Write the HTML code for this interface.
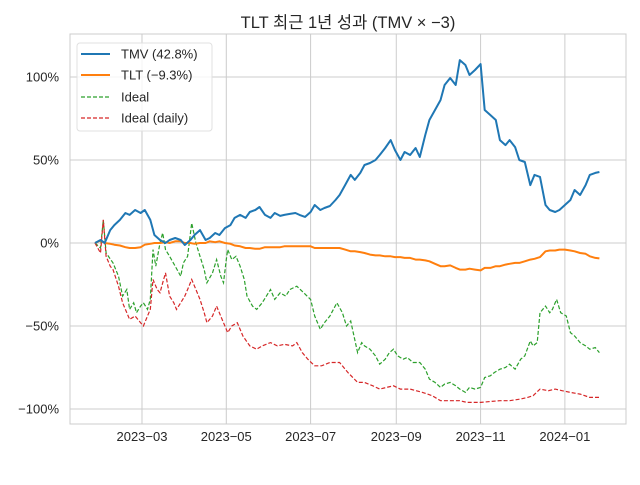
<!DOCTYPE html>
<html><head><meta charset="utf-8">
<style>
body{margin:0;background:#fff;}
svg text{font-family:"Liberation Sans","Noto Sans CJK KR",sans-serif;fill:#262626;}
</style></head>
<body>
<svg id="chart" width="640" height="480" viewBox="0 0 640 480" xmlns="http://www.w3.org/2000/svg">
<rect width="640" height="480" fill="#fff"/>
<text x="348" y="28" text-anchor="middle" font-size="16.5">TLT 최근 1년 성과 (TMV × −3)</text>
<rect x="70" y="34" width="556" height="390" fill="#fff" stroke="#cccccc" stroke-width="1"/>
<g id="grid"></g>
<g id="series"></g>
<g id="ticks"></g>
<g>
<rect x="77" y="43" width="135" height="88" rx="3" fill="#fff" fill-opacity="0.8" stroke="#e0e0e0"/>
<line x1="81" y1="54" x2="110" y2="54" stroke="#1f77b4" stroke-width="2"/>
<text x="121" y="58.5" font-size="13">TMV (42.8%)</text>
<line x1="81" y1="75" x2="110" y2="75" stroke="#ff7f0e" stroke-width="2"/>
<text x="121" y="79.5" font-size="13">TLT (−9.3%)</text>
<line x1="81" y1="97" x2="110" y2="97" stroke="#2ca02c" stroke-width="1.2" stroke-dasharray="4,2"/>
<text x="121" y="101.5" font-size="13">Ideal</text>
<line x1="81" y1="118" x2="110" y2="118" stroke="#d62728" stroke-width="1.2" stroke-dasharray="4,2"/>
<text x="121" y="122.5" font-size="13">Ideal (daily)</text>
</g>
</svg>
<script>
// days since 2023-01-26
const days = [0,4,7,11,14,18,22,25,29,33,36,40,43,47,51,54,58,62,65,69,72,76,80,83,87,90,94,98,101,105,109,112,116,119,123,127,130,134,137,141,145,148,152,156,159,163,166,170,174,177,181,185,188,192,195,199,203,206,210,214,217,221,224,228,232,235,239,242,246,250,253,257,261,264,268,271,275,279,282,286,290,293,297,300,304,307,311,315,318,322,326,329,333,336,340,344,347,351,355,358,362,365];
const tmv = [0,1.8,0,7.8,10.8,13.9,18.1,16.9,19.9,18.1,19.9,13.9,4.8,1.8,0,1.8,3.0,1.8,-1.2,1.8,4.8,7.8,1.8,3.0,6.0,4.8,9.0,10.8,15.1,16.9,15.1,18.7,19.9,21.7,16.9,15.1,18.1,16.3,16.9,17.5,18.1,16.9,15.7,18.7,22.9,19.9,21.1,22.3,25.9,28.9,34.9,41,38,42.2,47,48.2,50,53,57.2,62,56,50,54.8,53,57.2,51.8,65.1,74.1,80.1,86.1,95.2,99.4,95.2,110.2,107.2,101.2,104.2,107.8,80.1,77.1,74.1,62,59,62,57.8,50,48.8,34.9,41,39.8,22.9,19.9,18.7,19.9,22.9,25.9,31.9,28.9,34.9,41,42.2,42.8];
const tlt = [0,1.5,0,-0.5,-1,-1.5,-2.5,-3,-3,-2.5,-1,-0.5,0,0,0.5,0,1,1,0,0,-0.5,0,0,1,0.5,1,0,-0.5,-1.5,-2,-3,-3,-3.5,-3.5,-2.5,-2.5,-2.5,-2.5,-2,-2,-2,-2,-2,-2,-3,-3,-3,-3,-3,-3,-4,-5,-5,-5.5,-6,-7,-7.5,-7.5,-8,-8,-8.5,-8.5,-9,-9,-10,-10,-10.5,-11,-12.5,-14,-14,-13.5,-15,-16,-16,-15.5,-16,-16.5,-15,-15,-14,-14,-13,-12.5,-12,-12,-11,-10,-9.5,-8.5,-5,-4.5,-4.5,-4,-4,-4.5,-5,-6,-6.5,-8,-9,-9.3];
const idealDays = [0,4,6,8,13,17,20,23,25,28,30,33,35,38,40,42,44,47,49,51,54,58,62,64,67,70,73,76,79,81,85,88,91,93,95,96,99,102,105,108,110,114,117,121,124,127,130,134,138,141,146,151,156,159,163,166,170,175,179,182,185,190,193,195,199,203,206,210,213,216,219,223,226,230,235,239,242,246,250,253,257,261,264,268,271,275,279,282,286,289,293,297,300,304,308,311,315,317,320,322,326,329,331,334,337,341,344,347,351,355,358,362,365];
const ideal = [0,-3,14,-6,-12,-20,-32,-28,-40,-36,-42,-38,-36,-40,-34,-4,-14,0,6,-4,-8,-14,-20,-12,-8,12,0,-8,-16,-24,-18,-10,-20,-24,-10,-4,-10,-8,-14,-22,-32,-38,-40,-36,-32,-28,-34,-30,-32,-28,-26,-30,-34,-44,-52,-48,-44,-36,-42,-50,-47,-66,-60,-62,-64,-68,-73,-70,-66,-64,-68,-70,-69,-72,-72,-76,-82,-84,-87,-85,-84,-86,-88,-90,-87,-88,-87,-81,-80,-78,-76,-75,-73,-76,-70,-68,-59,-62,-60,-42,-38,-42,-40,-34,-42,-44,-54,-56,-60,-62,-64,-63,-66];
const dailyDays = [0,4,6,8,11,13,17,20,23,25,29,33,35,38,40,42,45,47,49,51,54,57,59,62,65,68,70,73,76,79,81,85,88,92,96,99,103,107,112,117,121,127,132,137,143,146,150,154,159,164,170,177,183,190,195,201,206,211,216,221,228,237,244,250,257,264,269,275,279,286,293,300,308,313,317,322,328,333,338,344,351,358,365];
const idealDaily = [0,-6,14,-8,-14,-16,-26,-36,-42,-46,-44,-48,-50,-44,-40,-22,-28,-30,-24,-18,-32,-36,-40,-36,-32,-26,-22,-28,-34,-42,-48,-44,-38,-46,-54,-50,-48,-56,-62,-64,-62,-60,-62,-61,-62,-60,-66,-70,-74,-74,-72,-72,-78,-84,-84,-86,-88,-87,-86,-88,-88,-90,-92,-95,-95,-95,-96,-96,-96,-95.5,-95,-95,-94,-93,-92,-88,-89,-88,-89,-90,-91,-93,-93];
const yTicks = [100,50,0,-50,-100];
const yTickLabels = ["100%","50%","0%","−50%","−100%"];
const xTickDays = [34,95,156,218,279,340];
const xTickLabels = ["2023−03","2023−05","2023−07","2023−09","2023−11","2024−01"];

const NS = "http://www.w3.org/2000/svg";
function xs(d){ return 95 + d*1.382; }
function ys(v){ return 243 - v*1.66; }
function mk(tag, attrs, parent){
  const e = document.createElementNS(NS, tag);
  for (const k in attrs) e.setAttribute(k, attrs[k]);
  parent.appendChild(e); return e;
}
const grid = document.getElementById('grid');
const ticks = document.getElementById('ticks');
const series = document.getElementById('series');
yTicks.forEach((v,i)=>{
  const l = mk('line',{x1:70,x2:626,y1:ys(v),y2:ys(v),stroke:'#cccccc','stroke-width':1},grid);
  
  
  const t = mk('text',{x:59,y:ys(v)+4.5,'text-anchor':'end','font-size':13},ticks);
  t.textContent = yTickLabels[i];
  
  
});
xTickDays.forEach((d,i)=>{
  const l = mk('line',{x1:xs(d),x2:xs(d),y1:34,y2:424,stroke:'#cccccc','stroke-width':1},grid);
  
  
  const t = mk('text',{x:xs(d),y:441,'text-anchor':'middle','font-size':13},ticks);
  t.textContent = xTickLabels[i];
  
  
});
function path(dx, vals){
  const n = Math.min(dx.length, vals.length);
  let s = '';
  for (let i=0;i<n;i++) s += (i?'L':'M') + xs(dx[i]).toFixed(1) + ',' + ys(vals[i]).toFixed(1);
  return s;
}
const pG = mk('path',{d:path(idealDays,ideal),fill:'none',stroke:'#2ca02c','stroke-width':1.2,'stroke-dasharray':'4,2'},series);


const pR = mk('path',{d:path(dailyDays,idealDaily),fill:'none',stroke:'#d62728','stroke-width':1.2,'stroke-dasharray':'4,2'},series);


const pO = mk('path',{d:path(days,tlt),fill:'none',stroke:'#ff7f0e','stroke-width':2,'stroke-linejoin':'round'},series);


const pB = mk('path',{d:path(days,tmv),fill:'none',stroke:'#1f77b4','stroke-width':2,'stroke-linejoin':'round'},series);


</script>
</body></html>
